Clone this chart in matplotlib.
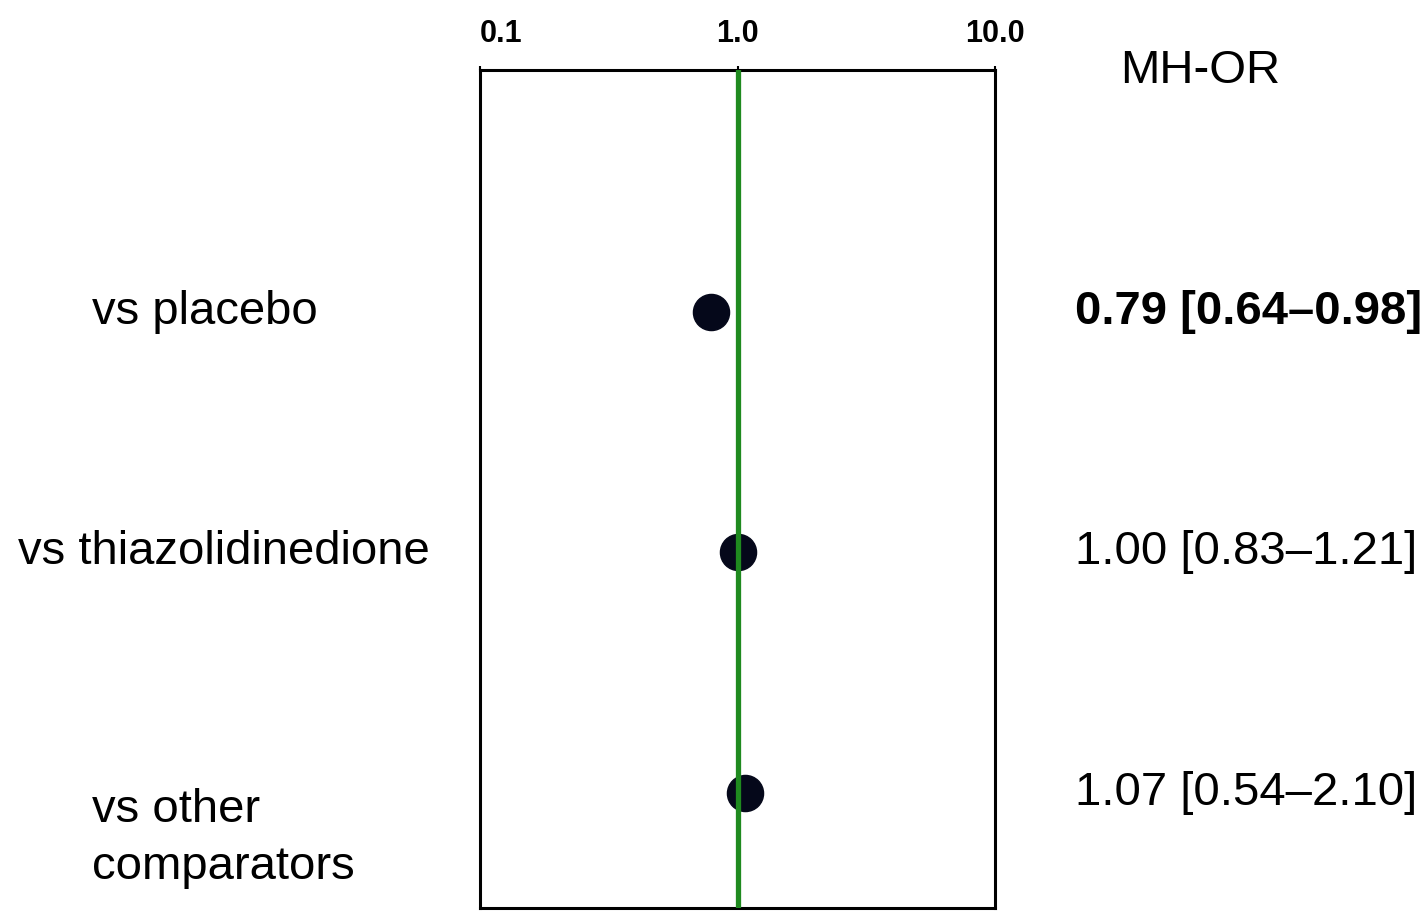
import numpy as np
import matplotlib.pyplot as plt

plt.rcParams['font.family'] = ['Liberation Sans', 'DejaVu Sans']

# Mantel-Haenszel odds ratios by comparator
groups = ['vs placebo', 'vs thiazolidinedione', 'vs other\ncomparators']
mh_or = [0.79, 1.00, 1.07]
ci_low = [0.64, 0.83, 0.54]
ci_high = [0.98, 1.21, 2.10]
ticks = [0.1, 1.0, 10.0]
tick_labels = ['0.1', '1.0', '10.0']

fig = plt.figure(figsize=(14.26, 9.11), dpi=100)
ax = fig.add_axes([480 / 1426, 3 / 911, 515 / 1426, 838 / 911])

ypos = np.arange(len(groups))
ax.plot(mh_or, ypos, 'o', color='#05081a', markersize=26, zorder=2)
ax.axvline(1.0, color='#1f8a1f', lw=3.8, zorder=3)

ax.set_xscale('log')
ax.set_xlim(0.1, 10)
ax.set_ylim(2.48, -1.006)
ax.set_yticks([])
ax.minorticks_off()
ax.xaxis.tick_top()
ax.set_xticks(ticks)
ax.set_xticklabels(tick_labels, fontsize=22, fontweight='bold')
ax.tick_params(axis='x', length=3, width=1.5, pad=12)
ax.get_xticklabels()[0].set_ha('left')
for s in ax.spines.values():
    s.set_linewidth(2.2)

# row labels on the left, summary estimates on the right
label_x = [-0.753, -0.897, -0.753]
for y, g, lx in zip(ypos, groups, label_x):
    if '\n' in g:
        ax.text(lx, y - 0.02, g, transform=ax.get_yaxis_transform(),
                fontsize=34, ha='left', va='top', linespacing=1.4)
    else:
        ax.text(lx, y, g, transform=ax.get_yaxis_transform(),
                fontsize=34, ha='left', va='center')

for i, (y, m, lo, hi) in enumerate(zip(ypos, mh_or, ci_low, ci_high)):
    ax.text(1.155, y, f'{m:.2f} [{lo:.2f}\u2013{hi:.2f}]',
            transform=ax.get_yaxis_transform(), fontsize=34,
            fontweight='bold' if hi < 1 else 'normal',
            ha='left', va='center')

ax.text(1.243, -1.0, 'MH-OR', transform=ax.get_yaxis_transform(),
        fontsize=34, ha='left', va='center')

fig.savefig('out.png', dpi=100)
